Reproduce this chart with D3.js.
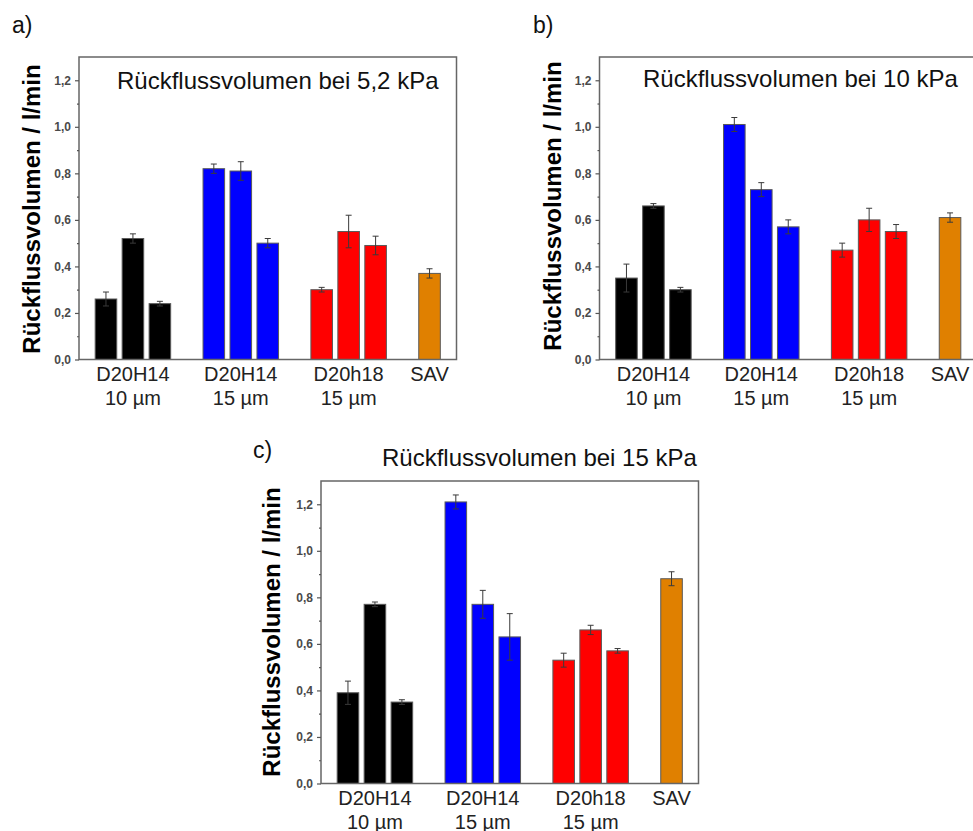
<!DOCTYPE html>
<html>
<head>
<meta charset="utf-8">
<script src="https://cdn.jsdelivr.net/npm/d3@7"></script>
<style>
  html, body { margin: 0; padding: 0; background: #fff; }
  svg { display: block; }
  text { font-family: "Liberation Sans", Arial, sans-serif; }
</style>
</head>
<body>
<svg id="chart" width="973" height="831"></svg>
<script>
// ---- data ----
const groupLabels = [["D20H14", "10 µm"], ["D20H14", "15 µm"], ["D20h18", "15 µm"], ["SAV"]];
const barGroup = [0, 0, 0, 1, 1, 1, 2, 2, 2, 3];
const groupColors = ["#000000", "#0000ff", "#ff0000", "#e08000"];

const values52 = [0.26, 0.52, 0.24, 0.82, 0.81, 0.50, 0.30, 0.55, 0.49, 0.37];
const errors52 = [0.03, 0.02, 0.01, 0.02, 0.04, 0.02, 0.01, 0.07, 0.04, 0.02];
const values10 = [0.35, 0.66, 0.30, 1.01, 0.73, 0.57, 0.47, 0.60, 0.55, 0.61];
const errors10 = [0.06, 0.01, 0.01, 0.03, 0.03, 0.03, 0.03, 0.05, 0.03, 0.02];
const values15 = [0.39, 0.77, 0.35, 1.21, 0.77, 0.63, 0.53, 0.66, 0.57, 0.88];
const errors15 = [0.05, 0.01, 0.01, 0.03, 0.06, 0.10, 0.03, 0.02, 0.01, 0.03];

const yTicks = [0, 0.2, 0.4, 0.6, 0.8, 1.0, 1.2];
const yMinorTicks = [0.1, 0.3, 0.5, 0.7, 0.9, 1.1];
const yMax = 1.3;
const titles = ["Rückflussvolumen bei 5,2 kPa", "Rückflussvolumen bei 10 kPa", "Rückflussvolumen bei 15 kPa"];
const panelLetters = ["a)", "b)", "c)"];
const yLabel = "Rückflussvolumen / l/min";

// ---- layout ----
const panels = [
  { values: values52, errors: errors52, title: titles[0], letter: panelLetters[0],
    left: 79, top: 57, right: 456.5, bottom: 359.5,
    titleX: 117, titleY: 89, letterX: 12, letterY: 33, yLabX: 40, yLabY: 209 },
  { values: values10, errors: errors10, title: titles[1], letter: panelLetters[1],
    left: 599.5, top: 57, right: 977, bottom: 359.5,
    titleX: 643, titleY: 87, letterX: 533, letterY: 33, yLabX: 561, yLabY: 206 },
  { values: values15, errors: errors15, title: titles[2], letter: panelLetters[2],
    left: 321, top: 481, right: 698.5, bottom: 783.5,
    titleX: 382, titleY: 466, letterX: 253, letterY: 458, yLabX: 280, yLabY: 632 }
];

const svg = d3.select("#chart");
const fmt = d => d3.format(".1f")(d).replace(".", ",");

// slot index of each bar: group * 4 + position within group + 1
const slotIndex = barGroup.map((g, i) => g * 4 + (i - barGroup.indexOf(g)) + 1);
const groupCenters = groupLabels.map((_, g) => {
  const s = slotIndex.filter((_, i) => barGroup[i] === g);
  return d3.mean(s);
});

panels.forEach(p => {
  const g = svg.append("g");
  const x = d3.scaleLinear().domain([0, 14]).range([p.left, p.right]);
  const y = d3.scaleLinear().domain([0, yMax]).range([p.bottom, p.top]);
  const bw = (x(1) - x(0)) * 0.8;

  // bars
  g.selectAll("rect.bar").data(p.values).join("rect")
    .attr("class", "bar")
    .attr("x", (d, i) => x(slotIndex[i]) - bw / 2)
    .attr("y", d => y(d))
    .attr("width", bw)
    .attr("height", d => y(0) - y(d))
    .attr("fill", (d, i) => groupColors[barGroup[i]])
    .attr("stroke", "#5a5a5a")
    .attr("stroke-width", 1);

  // error bars
  const eb = g.selectAll("g.err").data(p.values).join("g").attr("class", "err")
    .attr("stroke", "#3a3a3a").attr("stroke-width", 1);
  eb.append("line")
    .attr("x1", (d, i) => x(slotIndex[i])).attr("x2", (d, i) => x(slotIndex[i]))
    .attr("y1", (d, i) => y(d - p.errors[i])).attr("y2", (d, i) => y(d + p.errors[i]));
  eb.append("line")
    .attr("x1", (d, i) => x(slotIndex[i]) - 3).attr("x2", (d, i) => x(slotIndex[i]) + 3)
    .attr("y1", (d, i) => y(d + p.errors[i])).attr("y2", (d, i) => y(d + p.errors[i]));
  eb.append("line")
    .attr("x1", (d, i) => x(slotIndex[i]) - 3).attr("x2", (d, i) => x(slotIndex[i]) + 3)
    .attr("y1", (d, i) => y(d - p.errors[i])).attr("y2", (d, i) => y(d - p.errors[i]));

  // frame
  g.append("rect")
    .attr("x", p.left).attr("y", p.top)
    .attr("width", p.right - p.left).attr("height", p.bottom - p.top)
    .attr("fill", "none").attr("stroke", "#666").attr("stroke-width", 1.5);

  // y axis
  const yAxis = d3.axisLeft(y).tickValues(yTicks).tickFormat(fmt).tickSize(4).tickPadding(4);
  const ya = g.append("g").attr("transform", `translate(${p.left},0)`).call(yAxis);
  ya.select(".domain").remove();
  ya.selectAll(".tick line").attr("stroke", "#555").attr("stroke-width", 1.2);
  ya.selectAll(".tick text")
    .attr("fill", "#4a4a4a").style("font-size", "12px").style("font-weight", "bold")
    .style("font-family", "'Liberation Sans', Arial, sans-serif");
  const yMinor = d3.axisLeft(y).tickValues(yMinorTicks).tickFormat("").tickSize(2);
  const ym = g.append("g").attr("transform", `translate(${p.left},0)`).call(yMinor);
  ym.select(".domain").remove();
  ym.selectAll(".tick line").attr("stroke", "#555").attr("stroke-width", 1.2);

  // x labels
  groupLabels.forEach((lines, gi) => {
    lines.forEach((t, li) => {
      g.append("text")
        .attr("x", x(groupCenters[gi]))
        .attr("y", p.bottom + 21.5 + li * 23.5)
        .attr("text-anchor", "middle")
        .attr("fill", "#222")
        .style("font-size", "20px")
        .text(t);
    });
  });

  // title
  g.append("text")
    .attr("x", p.titleX).attr("y", p.titleY)
    .attr("fill", "#111")
    .style("font-size", "24px")
    .text(p.title);

  // y label
  g.append("text")
    .attr("transform", `translate(${p.yLabX},${p.yLabY}) rotate(-90)`)
    .attr("text-anchor", "middle")
    .attr("fill", "#000")
    .style("font-size", "24px").style("font-weight", "bold")
    .text(yLabel);

  // panel letter
  g.append("text")
    .attr("x", p.letterX).attr("y", p.letterY)
    .attr("fill", "#111")
    .style("font-size", "23px")
    .text(p.letter);
});
</script>
</body>
</html>
